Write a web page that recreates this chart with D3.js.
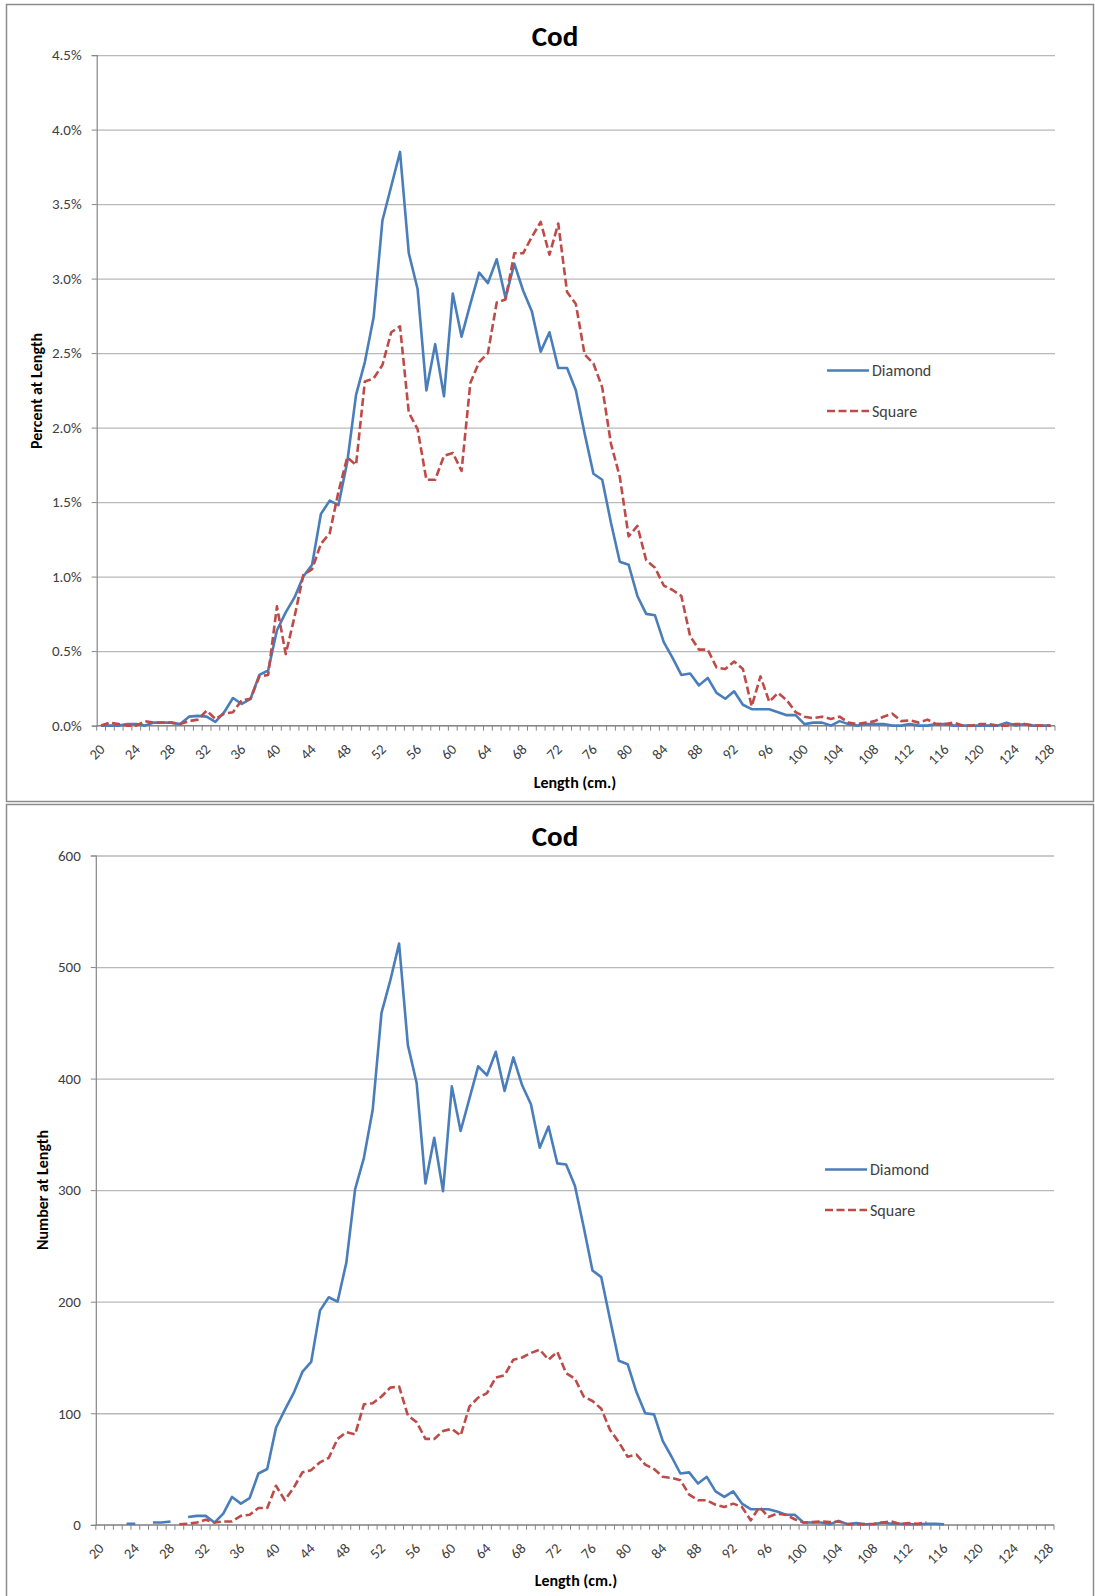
<!DOCTYPE html>
<html>
<head>
<meta charset="utf-8">
<script src="https://cdn.jsdelivr.net/npm/d3@7"></script>
<style>
  html, body { margin: 0; padding: 0; background: #ffffff; }
  svg { display: block; }
  text { font-family: Carlito, Lato, "Open Sans", sans-serif; }
</style>
</head>
<body>
<svg id="chart" width="1095" height="1596"></svg>
<script>
// Length classes (cm)
const lengths = [20,21,22,23,24,25,26,27,28,29,30,31,32,33,34,35,36,37,38,39,
  40,41,42,43,44,45,46,47,48,49,50,51,52,53,54,55,56,57,58,59,
  60,61,62,63,64,65,66,67,68,69,70,71,72,73,74,75,76,77,78,79,
  80,81,82,83,84,85,86,87,88,89,90,91,92,93,94,95,96,97,98,99,
  100,101,102,103,104,105,106,107,108,109,110,111,112,113,114,115,116,117,118,119,
  120,121,122,123,124,125,126,127,128];

// Percent at length, diamond-mesh codend
const diamondPct = [0,0,0,0.01,0.01,0,0.02,0.02,0.02,0.01,
  0.06,0.065,0.06,0.025,0.09,0.185,0.145,0.18,0.34,0.37,
  0.64,0.76,0.86,1.0,1.08,1.42,1.51,1.48,1.77,2.22,
  2.44,2.74,3.39,3.62,3.85,3.17,2.93,2.25,2.56,2.21,
  2.90,2.61,2.83,3.04,2.97,3.13,2.87,3.10,2.92,2.78,
  2.51,2.64,2.40,2.40,2.25,1.96,1.69,1.65,1.36,1.10,
  1.08,0.87,0.75,0.74,0.56,0.455,0.34,0.35,0.27,0.32,
  0.22,0.18,0.23,0.14,0.11,0.11,0.11,0.09,0.07,0.07,
  0.01,0.02,0.02,0,0.03,0.01,0,0.01,0.01,0.01,
  0,0,0.01,0,0,0.01,0.01,0,0,0,
  0,0,0,0.02,0,0.01,0,0,0];

// Percent at length, square-mesh codend
const squarePct = [0,0.02,0.01,0,0,0.03,0.02,0.02,0.02,0.01,
  0.03,0.04,0.10,0.045,0.08,0.09,0.17,0.18,0.33,0.34,
  0.80,0.48,0.73,1.01,1.05,1.22,1.29,1.57,1.80,1.75,
  2.31,2.33,2.42,2.64,2.68,2.10,1.99,1.65,1.65,1.81,
  1.83,1.71,2.30,2.44,2.50,2.84,2.86,3.17,3.17,3.28,
  3.38,3.16,3.37,2.91,2.83,2.49,2.43,2.27,1.89,1.67,
  1.27,1.34,1.11,1.06,0.94,0.91,0.87,0.60,0.51,0.51,
  0.39,0.38,0.43,0.38,0.13,0.33,0.16,0.22,0.17,0.09,
  0.06,0.05,0.06,0.045,0.06,0.02,0.01,0.02,0.03,0.06,
  0.08,0.03,0.035,0.02,0.04,0.01,0.01,0.02,0,0,
  0.01,0.01,0,0,0.01,0.01,0,0,0];

// Number at length, diamond-mesh codend (null = no fish measured)
const diamondNum = [null,null,null,1,1,null,2,2,3,null,
  7,8,8,2,10,25,19,24,46,50,
  87,103,118,137,146,192,204,200,235,301,
  329,372,459,488,521,430,396,306,347,299,
  393,353,382,411,403,424,389,419,394,377,
  338,357,324,323,304,267,228,222,184,147,
  144,119,100,99,75,61,46,47,37,43,
  30,25,30,19,14,14,14,12,9,9,
  2,2,2,0.5,3.5,0.5,1.5,0.5,0.5,2,
  1,1,0.5,0.5,1,1,0.5,null,null,null,
  null,null,null,null,null,null,null,null,null];

// Number at length, square-mesh codend
const squareNum = [null,null,null,null,null,null,null,null,null,0.5,
  1,2,4.5,2,3,3,8,9,15,15,
  35,22,33,47,49,56,60,77,83,81,
  108,109,115,123,124,98,92,77,77,84,
  86,80,106,114,118,132,134,148,150,154,
  157,148,155,136,131,115,111,104,85,74,
  61,63,54,50,43,42,40,27,22,22,
  18,16,19,16,4,16,7,10,9,5,
  2,2.4,3,2.4,3,0.6,0.6,0.6,1,2,
  3,0.6,1.5,1,2,null,null,null,null,null,
  null,null,null,null,null,null,null,null,null];

const pctTicks = [0,0.5,1.0,1.5,2.0,2.5,3.0,3.5,4.0,4.5];
const numTicks = [0,100,200,300,400,500,600];
const lengthLabels = [20,24,28,32,36,40,44,48,52,56,60,64,68,72,76,80,84,88,92,96,100,104,108,112,116,120,124,128];
const seriesNames = ["Diamond", "Square"];

const BLUE = "#4a7ebb";
const RED = "#be4b48";

const svg = d3.select("#chart");

function drawPanel(cfg) {
  const g = svg.append("g");

  // chart frame
  g.append("rect")
    .attr("x", cfg.frame[0]).attr("y", cfg.frame[1])
    .attr("width", cfg.frame[2]).attr("height", cfg.frame[3])
    .attr("fill", "#ffffff").attr("stroke", "#8c8c8c").attr("stroke-width", 1.5);

  const x = d3.scaleBand().domain(lengths).range([cfg.x0, cfg.x1]).padding(0);
  const cx = d => x(d) + x.bandwidth() / 2;
  const y = d3.scaleLinear().domain([0, cfg.yMax]).range([cfg.y0, cfg.yTop]);

  // horizontal gridlines
  g.append("g")
    .attr("transform", `translate(${cfg.x0},0)`)
    .call(d3.axisLeft(y).tickValues(cfg.ticks).tickSize(-(cfg.x1 - cfg.x0)).tickFormat(""))
    .call(a => a.select(".domain").remove())
    .call(a => a.selectAll("line").attr("stroke", "#b9b9b9").attr("stroke-width", 1.3));

  // value axis
  const yAxis = g.append("g")
    .attr("transform", `translate(${cfg.x0},0)`)
    .call(d3.axisLeft(y).tickValues(cfg.ticks).tickSize(5).tickPadding(10).tickFormat(cfg.fmt));
  yAxis.select(".domain").attr("stroke", "#868686").attr("stroke-width", 1.2);
  yAxis.selectAll(".tick line").attr("stroke", "#868686");
  yAxis.selectAll(".tick text").attr("fill", "#404040")
    .style("font-family", "Carlito, Lato, sans-serif").style("font-size", "15px");

  // category axis line and tick marks between categories
  g.append("line")
    .attr("x1", cfg.x0).attr("x2", cfg.x1).attr("y1", y(0)).attr("y2", y(0))
    .attr("stroke", "#868686").attr("stroke-width", 1.2);
  g.append("g").selectAll("line")
    .data(lengths.concat(["end"]))
    .join("line")
    .attr("x1", d => d === "end" ? cfg.x1 : x(d))
    .attr("x2", d => d === "end" ? cfg.x1 : x(d))
    .attr("y1", y(0)).attr("y2", y(0) + 5)
    .attr("stroke", "#868686").attr("stroke-width", 1);

  // category labels, rotated
  g.append("g").selectAll("text")
    .data(lengthLabels)
    .join("text")
    .attr("transform", d => `translate(${cx(d) + 1},${y(0) + 21}) rotate(-45)`)
    .attr("text-anchor", "end")
    .attr("dy", "0.35em")
    .attr("fill", "#404040")
    .style("font-size", "14.5px")
    .text(d => d);

  // series lines
  const line = d3.line()
    .defined(d => d.v !== null)
    .x(d => cx(d.len))
    .y(d => y(d.v))
    .curve(d3.curveLinear);

  const series = [
    { name: seriesNames[0], values: cfg.a, color: BLUE, dash: null },
    { name: seriesNames[1], values: cfg.b, color: RED, dash: "8,3.5" }
  ];

  series.forEach(s => {
    const pts = lengths.map((len, i) => ({ len, v: s.values[i] }));
    g.append("path")
      .datum(pts)
      .attr("fill", "none")
      .attr("stroke", s.color)
      .attr("stroke-width", 2.6)
      .attr("stroke-linejoin", "round")
      .attr("stroke-dasharray", s.dash)
      .attr("d", line);
  });

  // legend
  series.forEach((s, i) => {
    const ly = cfg.legendY[i];
    g.append("line")
      .attr("x1", cfg.legendX).attr("x2", cfg.legendX + 42)
      .attr("y1", ly).attr("y2", ly)
      .attr("stroke", s.color).attr("stroke-width", 2.6)
      .attr("stroke-dasharray", s.dash);
    g.append("text")
      .attr("x", cfg.legendX + 45).attr("y", ly)
      .attr("dy", "0.35em")
      .attr("fill", "#404040")
      .style("font-size", "16px")
      .text(s.name);
  });

  // titles
  g.append("text")
    .attr("x", cfg.titleX).attr("y", cfg.titleY)
    .attr("text-anchor", "middle")
    .attr("fill", "#000")
    .style("font-size", "29px").style("font-weight", "bold")
    .text("Cod");

  g.append("text")
    .attr("transform", `translate(${cfg.yTitleX},${cfg.yTitleY}) rotate(-90)`)
    .attr("text-anchor", "middle")
    .attr("fill", "#000")
    .style("font-size", "16px").style("font-weight", "bold")
    .text(cfg.yTitle);

  g.append("text")
    .attr("x", cfg.xTitleX).attr("y", cfg.xTitleY)
    .attr("text-anchor", "middle")
    .attr("fill", "#000")
    .style("font-size", "16px").style("font-weight", "bold")
    .text("Length (cm.)");
}

drawPanel({
  frame: [6.5, 4.5, 1087, 797],
  x0: 96.7, x1: 1055, y0: 725.6, yTop: 55.1, yMax: 4.5,
  ticks: pctTicks, fmt: d => d.toFixed(1) + "%",
  a: diamondPct, b: squarePct,
  legendX: 827, legendY: [370.5, 411],
  titleX: 555, titleY: 46,
  yTitle: "Percent at Length", yTitleX: 41.5, yTitleY: 391,
  xTitleX: 575, xTitleY: 788
});

drawPanel({
  frame: [6.5, 804.5, 1087, 800],
  x0: 95.8, x1: 1054, y0: 1524.8, yTop: 855.5, yMax: 600,
  ticks: numTicks, fmt: d3.format("d"),
  a: diamondNum, b: squareNum,
  legendX: 825, legendY: [1169.5, 1210],
  titleX: 555, titleY: 846,
  yTitle: "Number at Length", yTitleX: 48.3, yTitleY: 1190,
  xTitleX: 576, xTitleY: 1586
});
</script>
</body>
</html>
